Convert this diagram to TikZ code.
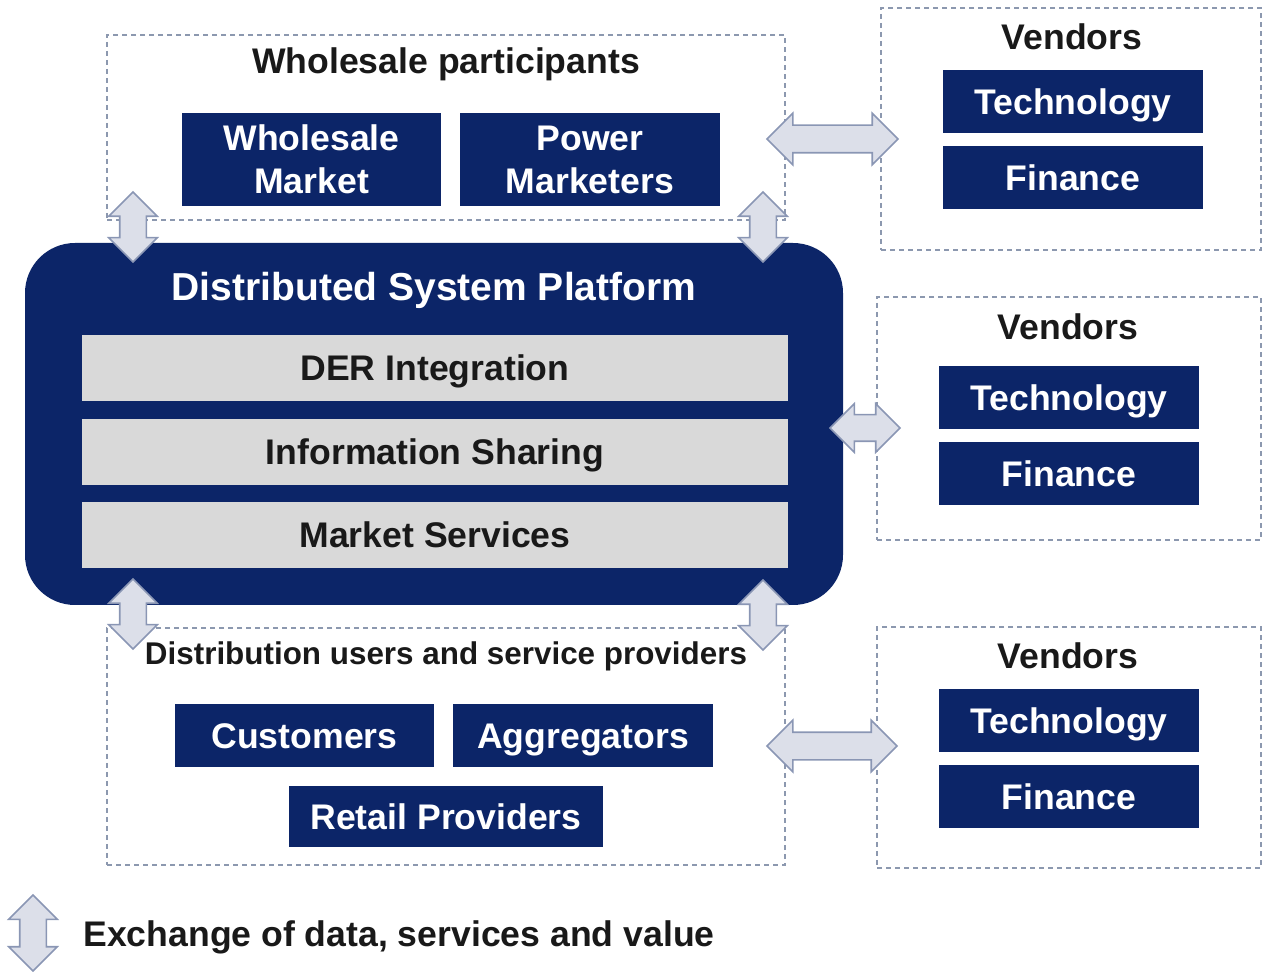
\documentclass[tikz,border=0pt]{standalone}
\usepackage{fontspec}
\setmainfont{Liberation Sans}
\usetikzlibrary{shapes.arrows}
\definecolor{navy}{RGB}{12,37,104}
\definecolor{bargray}{RGB}{217,217,217}
\definecolor{dashgray}{RGB}{140,152,175}
\definecolor{arrowfill}{RGB}{220,223,233}
\definecolor{arrowline}{RGB}{138,150,180}
\tikzstyle{group box}=[draw=dashgray,dash pattern=on 2.5pt off 2pt,line width=0.7pt,inner sep=0pt]
\tikzstyle{navy box}=[fill=navy,text=white,font=\bfseries\fontsize{17.8}{21.5}\selectfont,inner sep=0pt,align=center,minimum width=130pt,minimum height=31.5pt,text height=12.8pt,text depth=0pt]
\tikzstyle{two lines}=[minimum height=46.5pt,text height={},text depth={}]
\tikzstyle{bar box}=[fill=bargray,text=black!90,font=\bfseries\fontsize{17.8}{21.5}\selectfont,inner sep=0pt,minimum width=353pt,minimum height=33pt,text height=12.8pt,text depth=0pt]
\tikzstyle{group title}=[font=\bfseries\fontsize{17.8}{21.5}\selectfont,text=black!90,inner sep=0pt]
\tikzstyle{harrow}=[double arrow,draw=arrowline,fill=arrowfill,line width=0.8pt,minimum width=25pt,double arrow head extend=6pt,inner xsep=0pt,inner ysep=6.5pt]
\tikzstyle{varrow}=[harrow,rotate=90,minimum width=23.5pt,double arrow head extend=5.5pt,inner ysep=6.25pt]
\begin{document}
\begin{tikzpicture}[x=0.5pt,y=-0.5pt]
\useasboundingbox (0,0) rectangle (1264,972);
\node[group box,minimum width=339pt,minimum height=92.5pt] (wholesale) at (446,127.5) {};
\node[group box,minimum width=339pt,minimum height=118.5pt] (distribution) at (446,746.5) {};
\node[group box,minimum width=190pt,minimum height=121pt] (vendorsA) at (1071,129) {};
\node[group box,minimum width=192pt,minimum height=121.5pt] (vendorsB) at (1069,418.5) {};
\node[group box,minimum width=192pt,minimum height=120.5pt] (vendorsC) at (1069,747.5) {};
\node[group title] (wholesaletitle) at (446,64) {Wholesale participants};
\node[group title,font=\bfseries\fontsize{15.7}{19}\selectfont] (distributiontitle) at (446,656) {Distribution users and service providers};
\node[navy box,two lines,minimum width=129.5pt] (wsmarket) at (311.5,159.5) {Wholesale\\Market};
\node[navy box,two lines] (powermkt) at (590,159.5) {Power\\Marketers};
\node[navy box,minimum width=129.5pt] (customers) at (304.5,735.5) {Customers};
\node[navy box] (aggregators) at (583,735.5) {Aggregators};
\node[navy box,minimum width=157pt,minimum height=30.5pt] (retail) at (446,816.5) {Retail Providers};
\node[fill=navy,rounded corners=25pt,minimum width=409pt,minimum height=181pt,inner sep=0pt] (platform) at (434,424) {};
\node[group title,text=white,font=\bfseries\fontsize{19.5}{23}\selectfont] (platformtitle) at (434,290) {Distributed System Platform};
\node[bar box] (der) at (435,368) {DER Integration};
\node[bar box] (info) at (435,452) {Information Sharing};
\node[bar box] (market) at (435,535) {Market Services};
\node[group title] (vendtitleA) at (1072,37) {Vendors};
\node[navy box] (techA) at (1073,101.5) {Technology};
\node[navy box] (finA) at (1073,178) {Finance};
\node[group title] (vendtitleB) at (1068,327) {Vendors};
\node[navy box] (techB) at (1069,397.5) {Technology};
\node[navy box] (finB) at (1069,473.5) {Finance};
\node[group title] (vendtitleC) at (1068,656) {Vendors};
\node[navy box] (techC) at (1069,720.5) {Technology};
\node[navy box] (finC) at (1069,796.5) {Finance};
\node[harrow,minimum height=65.5pt] (arrowA) at (832.5,139) {};
\node[harrow,minimum height=35pt,minimum width=23.5pt,double arrow head extend=5.5pt,inner ysep=6.25pt] (arrowB) at (865,428) {};
\node[harrow,minimum height=65pt] (arrowC) at (832,746) {};
\node[varrow,minimum height=35pt] (upleft) at (133,227) {};
\node[varrow,minimum height=35pt] (upright) at (763,227) {};
\node[varrow,minimum height=35pt] (downleft) at (133,614) {};
\node[varrow,minimum height=35pt] (downright) at (763,615) {};
\node[varrow,minimum height=38pt] (legendarrow) at (33,933) {};
\node[group title,anchor=west] (legendtext) at (83,937) {Exchange of data, services and value};
\end{tikzpicture}
\end{document}
